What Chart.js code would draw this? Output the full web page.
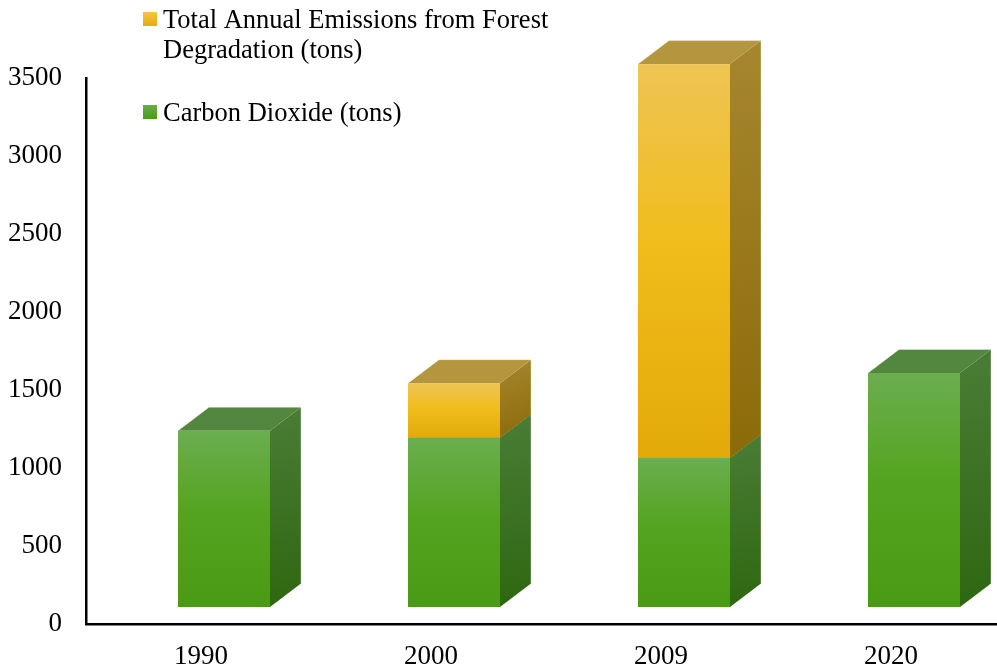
<!DOCTYPE html>
<html>
<head>
<meta charset="utf-8">
<script src="https://cdn.jsdelivr.net/npm/chart.js@4/dist/chart.umd.min.js"></script>
<style>
  html, body { margin: 0; padding: 0; background: #fff; width: 997px; height: 669px; overflow: hidden; }
  canvas { display: block; }
</style>
</head>
<body>
<canvas id="chart" width="1010" height="669"></canvas>
<script>
// Categories and series (tons)
const years = ['1990', '2000', '2009', '2020'];
const carbonDioxide = [1130, 1085, 955, 1500];
const forestDegradation = [0, 350, 2525, 0];
const seriesLabels = ['Carbon Dioxide (tons)', 'Total Annual Emissions from Forest Degradation (tons)'];
const yTickMin = 0, yTickMax = 3500, yTickStep = 500;

const FONT = '"Liberation Serif", "Times New Roman", serif';

// Colours for the three visible faces of each column
const palettes = [
  { front: ['#6aae4f', '#55a421', '#4a9a14'], side: ['#4a7d36', '#2e6710'], top: '#53863f', swatch: ['#68ad4a', '#4a9a16'] },
  { front: ['#eec454', '#f0bd1c', '#e2aa08'], side: ['#a6872f', '#8b6a08'], top: '#b4963f', swatch: ['#f2c649', '#e6ad06'] }
];

// Depth of the columns and shift of the front face away from the axis floor
const DX = 31, DY = 23.5, SX = 23, SY = -17;

function drawBox(ctx, el, pal) {
  const w = el.width;
  const l = el.x - w / 2 + SX, r = el.x + w / 2 + SX;
  const t = Math.min(el.y, el.base) + SY, b = Math.max(el.y, el.base) + SY;
  if (b - t < 0.5) return;

  // right side face
  let g = ctx.createLinearGradient(r, t - DY, r + DX, b);
  g.addColorStop(0, pal.side[0]);
  g.addColorStop(1, pal.side[1]);
  ctx.fillStyle = g;
  ctx.beginPath();
  ctx.moveTo(r, t); ctx.lineTo(r + DX, t - DY); ctx.lineTo(r + DX, b - DY); ctx.lineTo(r, b);
  ctx.closePath(); ctx.fill();

  // top face
  ctx.fillStyle = pal.top;
  ctx.beginPath();
  ctx.moveTo(l, t); ctx.lineTo(l + DX, t - DY); ctx.lineTo(r + DX, t - DY); ctx.lineTo(r, t);
  ctx.closePath(); ctx.fill();

  // faint highlight along the outer edges
  ctx.strokeStyle = 'rgba(255,255,255,0.35)';
  ctx.lineWidth = 1;
  ctx.beginPath();
  ctx.moveTo(l, t); ctx.lineTo(l + DX, t - DY); ctx.lineTo(r + DX, t - DY); ctx.lineTo(r + DX, b - DY);
  ctx.stroke();

  // front face
  g = ctx.createLinearGradient(0, t, 0, b);
  g.addColorStop(0, pal.front[0]);
  g.addColorStop(0.45, pal.front[1]);
  g.addColorStop(1, pal.front[2]);
  ctx.fillStyle = g;
  ctx.fillRect(l, t, r - l, b - t);
}

const columns3d = {
  id: 'columns3d',
  afterDatasetsDraw(chart) {
    const ctx = chart.ctx;
    ctx.save();
    const n = chart.data.labels.length;
    for (let i = 0; i < n; i++) {
      chart.data.datasets.forEach((ds, d) => {
        const el = chart.getDatasetMeta(d).data[i];
        if (el) drawBox(ctx, el, palettes[d]);
      });
    }
    ctx.restore();
  }
};

function wrapText(ctx, text, maxWidth) {
  const words = text.split(' ');
  const lines = [];
  let line = '';
  words.forEach(w => {
    const test = line ? line + ' ' + w : w;
    if (ctx.measureText(test).width > maxWidth && line) { lines.push(line); line = w; }
    else line = test;
  });
  if (line) lines.push(line);
  return lines;
}

// Legend listed top-down in reverse stacking order
const sideLegend = {
  id: 'sideLegend',
  afterDraw(chart) {
    const ctx = chart.ctx;
    ctx.save();
    ctx.font = '26.5px ' + FONT;
    ctx.textBaseline = 'alphabetic';
    ctx.textAlign = 'left';
    const items = [
      { d: 1, y: 28 },
      { d: 0, y: 121 }
    ];
    items.forEach(it => {
      const pal = palettes[it.d];
      const sy = it.y - 16;
      const g = ctx.createLinearGradient(0, sy, 0, sy + 14);
      g.addColorStop(0, pal.swatch[0]);
      g.addColorStop(1, pal.swatch[1]);
      ctx.fillStyle = g;
      ctx.fillRect(143, sy, 14, 14);
      ctx.fillStyle = '#000';
      const lines = wrapText(ctx, chart.data.datasets[it.d].label, 430);
      lines.forEach((ln, k) => ctx.fillText(ln, 163, it.y + k * 30));
    });
    ctx.restore();
  }
};

new Chart(document.getElementById('chart'), {
  type: 'bar',
  data: {
    labels: years,
    datasets: [
      { label: seriesLabels[0], data: carbonDioxide, backgroundColor: 'rgba(0,0,0,0)', borderWidth: 0 },
      { label: seriesLabels[1], data: forestDegradation, backgroundColor: 'rgba(0,0,0,0)', borderWidth: 0 }
    ]
  },
  options: {
    responsive: false,
    animation: false,
    devicePixelRatio: 1,
    layout: { padding: { top: 78, right: 4, left: 0, bottom: 0 } },
    categoryPercentage: 1,
    barPercentage: 0.4,
    plugins: { legend: { display: false }, tooltip: { enabled: false } },
    scales: {
      x: {
        stacked: true,
        grid: { display: false, drawTicks: false },
        border: { display: true, color: '#000', width: 2.5 },
        ticks: { color: '#000', font: { family: FONT, size: 27 }, padding: 17 },
        afterFit(s) { s.height = 45; }
      },
      y: {
        stacked: true,
        min: yTickMin,
        max: yTickMax,
        grid: { display: false, drawTicks: false },
        border: { display: true, color: '#000', width: 2.5 },
        ticks: {
          stepSize: yTickStep, color: '#000', font: { family: FONT, size: 27 }, padding: 24,
          callback: v => String(v)
        },
        afterFit(s) { s.width = 86; }
      }
    }
  },
  plugins: [columns3d, sideLegend]
});
</script>
</body>
</html>
